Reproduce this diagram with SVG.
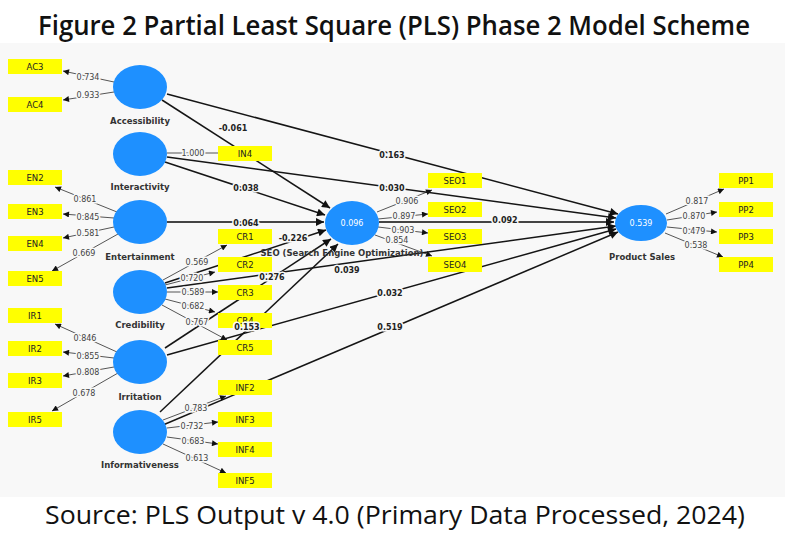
<svg xmlns="http://www.w3.org/2000/svg" width="785" height="533" viewBox="0 0 785 533">
<defs>
<style>
.ttl{font-family:"Open Sans","DejaVu Sans",sans-serif;font-size:27px;font-weight:600;fill:#111}
.cap{font-family:"Open Sans","DejaVu Sans",sans-serif;font-size:25px;fill:#111}
.lv{fill:#1E90FF}
.ind{fill:#FFFF00}
.bt{font-family:"DejaVu Sans",sans-serif;font-size:8.5px;fill:#222;text-anchor:middle}
.nm{font-family:"DejaVu Sans",sans-serif;font-size:8.5px;font-weight:bold;fill:#333;text-anchor:middle}
.r2{font-family:"DejaVu Sans",sans-serif;font-size:8px;fill:#fff;text-anchor:middle}
.ol{stroke:#555;stroke-width:1;fill:none}
.sp{stroke:#151515;stroke-width:1.5;fill:none}
.hz{stroke:#444;stroke-width:2.2;fill:none}
.c{font-family:"DejaVu Sans",sans-serif;font-size:8px;fill:#444;text-anchor:middle;stroke:#f8f8f8;stroke-width:3;paint-order:stroke}
.s{font-family:"DejaVu Sans",sans-serif;font-size:8px;font-weight:bold;fill:#222;text-anchor:middle;stroke:#f8f8f8;stroke-width:3;paint-order:stroke}
</style>
<marker id="m" viewBox="0 0 10 10" refX="10" refY="5" markerWidth="7" markerHeight="6" markerUnits="userSpaceOnUse" orient="auto"><path d="M0,0L10,5L0,10z" fill="#111"/></marker>
<marker id="M" viewBox="0 0 10 10" refX="10" refY="5" markerWidth="9" markerHeight="8" markerUnits="userSpaceOnUse" orient="auto"><path d="M0,0L10,5L0,10z" fill="#111"/></marker>
</defs>
<rect width="785" height="533" fill="#fff"/>
<rect x="0" y="43" width="785" height="454" fill="#f8f8f8"/>
<text class="ttl" x="394" y="35" text-anchor="middle" textLength="712" lengthAdjust="spacingAndGlyphs">Figure 2 Partial Least Square (PLS) Phase 2 Model Scheme</text>
<text class="cap" x="395" y="524" text-anchor="middle" textLength="700" lengthAdjust="spacingAndGlyphs">Source: PLS Output v 4.0 (Primary Data Processed, 2024)</text>

<g id="connectors">
<g marker-end="url(#m)" class="ol">
<path d="M114,82L63,71"/><path d="M114,92L63,100"/>
<path d="M117,212L55,187"/><path d="M114,218L63,214"/><path d="M114,227L63,238"/><path d="M118,234L52,271"/>
<path d="M117,352L55,324"/><path d="M114,358L63,352"/><path d="M114,367L63,376"/><path d="M118,373L52,411"/>
<path d="M163,280L227,245"/><path d="M165,285L215,272"/><path d="M167,292L218,292"/><path d="M165,299L215,312"/><path d="M162,305L227,340"/>
<path d="M163,420L226,396"/><path d="M167,428L218,422"/><path d="M167,437L218,444"/><path d="M163,444L226,473"/>
<path d="M377,212L432,190"/><path d="M378,219L428,214"/><path d="M378,227L428,233"/><path d="M375,235L432,256"/>
<path d="M666,214L724,189"/><path d="M667,220L717,212"/><path d="M667,227L717,232"/><path d="M665,233L723,257"/>
</g>
<path class="ol" d="M167,153L218,153"/>
<g marker-end="url(#M)">
<path class="sp" d="M162,100L330,208"/>
<path class="sp" d="M165,162L325,215"/>
<path class="hz" d="M167,222L324,222"/>
<path class="sp" d="M165,283L326,230"/>
<path class="sp" d="M165,348L331,239"/>
<path class="sp" d="M160,412L338,244"/>
<path class="hz" d="M379,222L614,222"/>
<path class="sp" d="M167,94L618,214"/>
<path class="sp" d="M167,157L616,218"/>
<path class="sp" d="M167,288L616,226"/>
<path class="sp" d="M167,355L616,229"/>
<path class="sp" d="M163,425L618,232"/>
</g>
</g>

<g id="indicators">
<g id="AC3"><rect class="ind" x="8" y="59" width="54" height="15"/><text class="bt" x="35" y="69.5">AC3</text></g>
<g id="AC4"><rect class="ind" x="8" y="97" width="54" height="15"/><text class="bt" x="35" y="107.5">AC4</text></g>
<g id="EN2"><rect class="ind" x="8" y="170" width="54" height="15"/><text class="bt" x="35" y="180.5">EN2</text></g>
<g id="EN3"><rect class="ind" x="8" y="204" width="54" height="15"/><text class="bt" x="35" y="214.5">EN3</text></g>
<g id="EN4"><rect class="ind" x="8" y="236" width="54" height="15"/><text class="bt" x="35" y="246.5">EN4</text></g>
<g id="EN5"><rect class="ind" x="8" y="271" width="54" height="15"/><text class="bt" x="35" y="281.5">EN5</text></g>
<g id="IR1"><rect class="ind" x="8" y="308" width="54" height="15"/><text class="bt" x="35" y="318.5">IR1</text></g>
<g id="IR2"><rect class="ind" x="8" y="341" width="54" height="15"/><text class="bt" x="35" y="351.5">IR2</text></g>
<g id="IR3"><rect class="ind" x="8" y="373" width="54" height="15"/><text class="bt" x="35" y="383.5">IR3</text></g>
<g id="IR5"><rect class="ind" x="8" y="412" width="54" height="15"/><text class="bt" x="35" y="422.5">IR5</text></g>
<g id="IN4"><rect class="ind" x="218" y="146" width="54" height="15"/><text class="bt" x="245" y="156.5">IN4</text></g>
<g id="CR1"><rect class="ind" x="218" y="229" width="54" height="15"/><text class="bt" x="245" y="239.5">CR1</text></g>
<g id="CR2"><rect class="ind" x="218" y="257" width="54" height="15"/><text class="bt" x="245" y="267.5">CR2</text></g>
<g id="CR3"><rect class="ind" x="218" y="285" width="54" height="15"/><text class="bt" x="245" y="295.5">CR3</text></g>
<g id="CR4"><rect class="ind" x="218" y="313" width="54" height="15"/><text class="bt" x="245" y="323.5">CR4</text></g>
<g id="CR5"><rect class="ind" x="218" y="340" width="54" height="15"/><text class="bt" x="245" y="350.5">CR5</text></g>
<g id="INF2"><rect class="ind" x="218" y="380" width="54" height="15"/><text class="bt" x="245" y="390.5">INF2</text></g>
<g id="INF3"><rect class="ind" x="218" y="412" width="54" height="15"/><text class="bt" x="245" y="422.5">INF3</text></g>
<g id="INF4"><rect class="ind" x="218" y="442" width="54" height="15"/><text class="bt" x="245" y="452.5">INF4</text></g>
<g id="INF5"><rect class="ind" x="218" y="473" width="54" height="15"/><text class="bt" x="245" y="483.5">INF5</text></g>
<g id="SEO1"><rect class="ind" x="428" y="173" width="54" height="15"/><text class="bt" x="455" y="183.5">SEO1</text></g>
<g id="SEO2"><rect class="ind" x="428" y="202" width="54" height="15"/><text class="bt" x="455" y="212.5">SEO2</text></g>
<g id="SEO3"><rect class="ind" x="428" y="229" width="54" height="15"/><text class="bt" x="455" y="239.5">SEO3</text></g>
<g id="SEO4"><rect class="ind" x="428" y="257" width="54" height="15"/><text class="bt" x="455" y="267.5">SEO4</text></g>
<g id="PP1"><rect class="ind" x="719" y="173" width="54" height="15"/><text class="bt" x="746" y="183.5">PP1</text></g>
<g id="PP2"><rect class="ind" x="719" y="202" width="54" height="15"/><text class="bt" x="746" y="212.5">PP2</text></g>
<g id="PP3"><rect class="ind" x="719" y="229" width="54" height="15"/><text class="bt" x="746" y="239.5">PP3</text></g>
<g id="PP4"><rect class="ind" x="719" y="257" width="54" height="15"/><text class="bt" x="746" y="267.5">PP4</text></g>
</g>

<g id="Accessibility"><ellipse class="lv" cx="140" cy="87" rx="27" ry="22"/><text class="nm" x="140" y="124">Accessibility</text></g>
<g id="Interactivity"><ellipse class="lv" cx="140" cy="154" rx="27" ry="22"/><text class="nm" x="140" y="190">Interactivity</text></g>
<g id="Entertainment"><ellipse class="lv" cx="140" cy="222" rx="27" ry="22"/><text class="nm" x="140" y="260">Entertainment</text></g>
<g id="Credibility"><ellipse class="lv" cx="140" cy="292" rx="27" ry="22"/><text class="nm" x="140" y="328">Credibility</text></g>
<g id="Irritation"><ellipse class="lv" cx="140" cy="362" rx="27" ry="22"/><text class="nm" x="140" y="400">Irritation</text></g>
<g id="Informativeness"><ellipse class="lv" cx="140" cy="432" rx="27" ry="22"/><text class="nm" x="140" y="468">Informativeness</text></g>
<g id="SEO"><ellipse class="lv" cx="352" cy="223" rx="27" ry="22"/><text class="r2" x="352" y="226">0.096</text><text class="nm" x="342" y="256">SEO (Search Engine Optimization)</text></g>
<g id="ProductSales"><ellipse class="lv" cx="641" cy="223" rx="26" ry="18"/><text class="r2" x="641" y="226">0.539</text><text class="nm" x="642" y="260">Product Sales</text></g>

<g id="connector-labels">
<text class="c" x="88" y="80">0.734</text><text class="c" x="88" y="98">0.933</text>
<text class="c" x="85" y="202">0.861</text><text class="c" x="88" y="220">0.845</text><text class="c" x="88" y="236">0.581</text><text class="c" x="84" y="256">0.669</text>
<text class="c" x="85" y="341">0.846</text><text class="c" x="88" y="359">0.855</text><text class="c" x="88" y="375">0.808</text><text class="c" x="84" y="396">0.678</text>
<text class="c" x="193" y="156">1.000</text>
<text class="c" x="197" y="265">0.569</text><text class="c" x="192" y="281">0.720</text><text class="c" x="193" y="295">0.589</text><text class="c" x="193" y="309">0.682</text><text class="c" x="197" y="325">0.767</text>
<text class="c" x="196" y="411">0.783</text><text class="c" x="192" y="429">0.732</text><text class="c" x="193" y="444">0.683</text><text class="c" x="197" y="461">0.613</text>
<text class="c" x="407" y="204">0.906</text><text class="c" x="404" y="219">0.897</text><text class="c" x="403" y="233">0.903</text><text class="c" x="397" y="243">0.854</text>
<text class="c" x="697" y="204">0.817</text><text class="c" x="694" y="219">0.870</text><text class="c" x="694" y="234">0.479</text><text class="c" x="696" y="248">0.538</text>
<text class="s" x="233" y="131">-0.061</text>
<text class="s" x="246" y="191">0.038</text>
<text class="s" x="246" y="226">0.064</text>
<text class="s" x="293" y="241">-0.226</text>
<text class="s" x="272" y="280">0.276</text>
<text class="s" x="247" y="330">0.153</text>
<text class="s" x="505" y="223">0.092</text>
<text class="s" x="392" y="158">0.163</text>
<text class="s" x="392" y="191">0.030</text>
<text class="s" x="347" y="273">0.039</text>
<text class="s" x="390" y="296">0.032</text>
<text class="s" x="390" y="330">0.519</text>
</g>
</svg>
